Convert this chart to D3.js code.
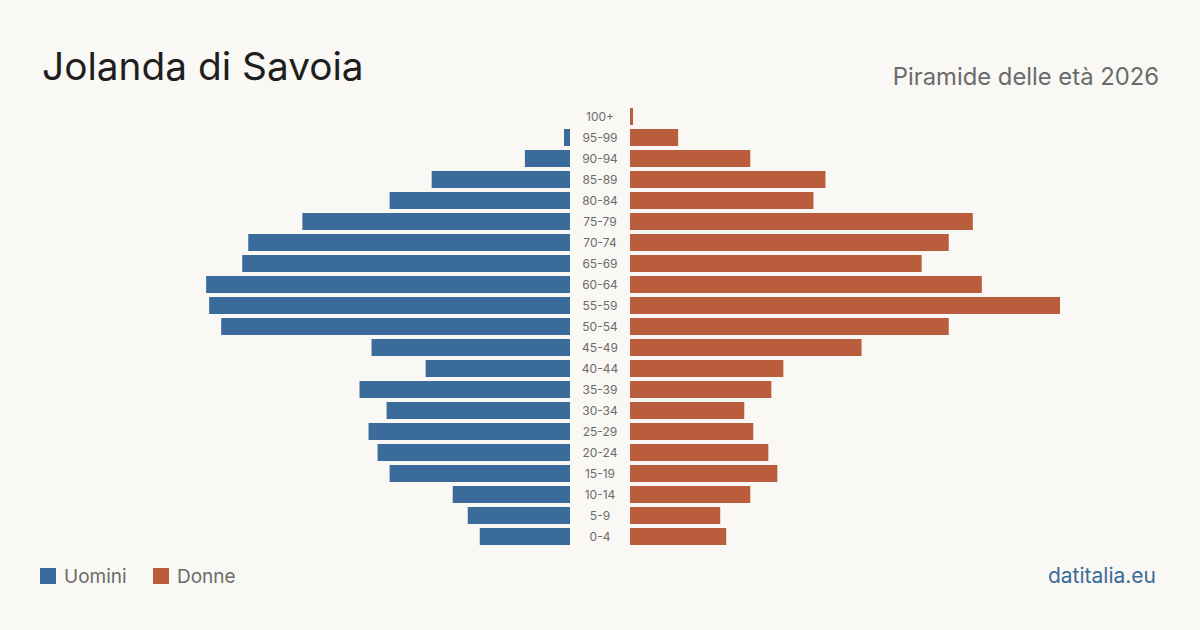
<!DOCTYPE html>
<html>
<head>
<meta charset="utf-8">
<script src="https://cdn.jsdelivr.net/npm/d3@7"></script>
<style>
  html, body { margin: 0; padding: 0; background: #f9f8f4; }
  svg { display: block; font-family: Inter, "Noto Sans", sans-serif; }
</style>
</head>
<body>
<svg id="piramide"></svg>
<script>
// fasce d'età, dal basso verso l'alto
const fasce = ["0-4","5-9","10-14","15-19","20-24","25-29","30-34","35-39","40-44","45-49",
  "50-54","55-59","60-64","65-69","70-74","75-79","80-84","85-89","90-94","95-99","100+"];
const uomini = [30,34,39,60,64,67,61,70,48,66,116,120,121,109,107,89,60,46,15,2,0];
const donne  = [32,30,40,49,46,41,38,47,51,77,106,143,117,97,106,114,61,65,40,16,1];

const legenda = [
  { nome: "Uomini", colore: "#3b6b9b" },
  { nome: "Donne", colore: "#b95d3d" },
];

const dim = { sirina: 1200, visina: 630, centar: 600, razmak: 30 };

const svg = d3.select("#piramide")
  .attr("width", dim.sirina)
  .attr("height", dim.visina);

svg.append("rect")
  .attr("width", dim.sirina)
  .attr("height", dim.visina)
  .attr("fill", "#f9f8f4");

// titolo
svg.append("text")
  .attr("x", 42)
  .attr("y", 80)
  .attr("font-size", 38.8)
  .attr("fill", "#1e1e1e")
  .text("Jolanda di Savoia");

svg.append("text")
  .attr("x", 1159)
  .attr("y", 85)
  .attr("text-anchor", "end")
  .attr("font-size", 23.8)
  .attr("fill", "#6b6b6b")
  .text("Piramide delle età 2026");

const yScale = d3.scaleBand()
  .domain(fasce.slice().reverse())
  .range([108, 545])
  .paddingInner(4 / 21)
  .paddingOuter(0);

const xScale = d3.scaleLinear()
  .domain([0, d3.max(donne.concat(uomini))])
  .range([0, 430]);

const righe = fasce.map((f, i) => ({ fascia: f, m: uomini[i], f: donne[i] }));

svg.append("g")
  .selectAll("rect")
  .data(righe)
  .join("rect")
  .attr("x", d => dim.centar - dim.razmak - xScale(d.m))
  .attr("y", d => yScale(d.fascia))
  .attr("width", d => xScale(d.m))
  .attr("height", yScale.bandwidth())
  .attr("fill", legenda[0].colore);

svg.append("g")
  .selectAll("rect")
  .data(righe)
  .join("rect")
  .attr("x", dim.centar + dim.razmak)
  .attr("y", d => yScale(d.fascia))
  .attr("width", d => xScale(d.f))
  .attr("height", yScale.bandwidth())
  .attr("fill", legenda[1].colore);

svg.append("g")
  .selectAll("text")
  .data(righe)
  .join("text")
  .attr("x", dim.centar)
  .attr("y", d => yScale(d.fascia) + yScale.bandwidth() / 2)
  .attr("dy", "0.35em")
  .attr("text-anchor", "middle")
  .attr("font-size", 12)
  .attr("fill", "#6b6b6b")
  .text(d => d.fascia);

// legenda
const leg = svg.append("g")
  .selectAll("g")
  .data(legenda)
  .join("g")
  .attr("transform", (d, i) => `translate(${40 + i * 113}, 568)`);

leg.append("rect")
  .attr("width", 16)
  .attr("height", 16)
  .attr("fill", d => d.colore);

leg.append("text")
  .attr("x", 24)
  .attr("y", 15)
  .attr("font-size", 19)
  .attr("fill", "#6b6b6b")
  .text(d => d.nome);

svg.append("text")
  .attr("x", 1156)
  .attr("y", 583)
  .attr("text-anchor", "end")
  .attr("font-size", 21)
  .attr("fill", "#3b6b9b")
  .text("datitalia.eu");
</script>
</body>
</html>
